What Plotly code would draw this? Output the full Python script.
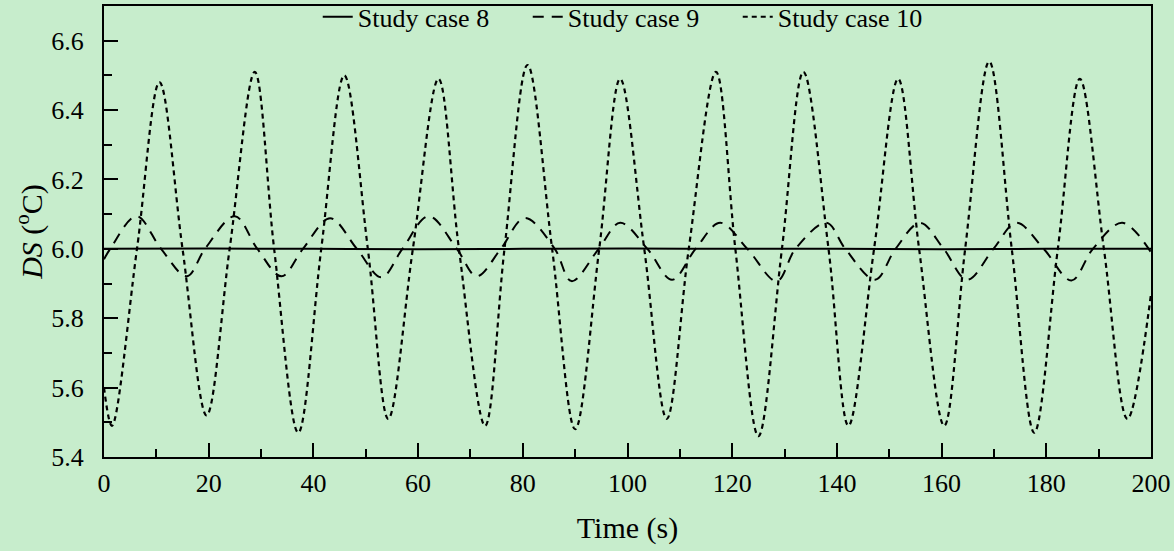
import plotly.graph_objects as go

# Study case 8 (practically constant)
t8 = [0, 20, 40, 60, 80, 100, 120, 140, 160, 180, 200]
v8 = [6.000, 6.001, 6.000, 5.999, 6.000, 6.001, 6.000, 6.000, 5.999, 6.000, 6.000]

# Study case 9 (extremes and 6.0 crossings)
t9 = [0, 1.2, 6.2, 10.9, 15.8, 19.3, 25.0, 29.3, 33.9, 38.0,
      43.2, 48.3, 53.0, 57.0, 62.0, 67.4, 71.2, 75.8, 80.4, 86.1,
      89.3, 94.5, 98.6, 103.8, 108.5, 113.0, 117.7, 122.9, 128.5, 132.1,
      138.0, 141.6, 147.3, 151.2, 155.9, 160.4, 164.9, 169.9, 174.3, 179.5,
      184.8, 188.9, 194.5, 200]
v9 = [5.97, 6.0, 6.094, 6.0, 5.921, 6.0, 6.094, 6.0, 5.921, 6.0,
      6.088, 6.0, 5.918, 6.0, 6.094, 6.0, 5.921, 6.0, 6.089, 6.0,
      5.907, 6.0, 6.075, 6.0, 5.911, 6.0, 6.075, 6.0, 5.907, 6.0,
      6.075, 6.0, 5.911, 6.0, 6.075, 6.0, 5.911, 6.0, 6.075, 6.0,
      5.909, 6.0, 6.075, 5.99]

# Study case 10
t10 = [0, 1.5, 6.3, 10.6, 15.0, 19.6, 24.0, 28.8, 32.5, 37.1,
       41.5, 45.9, 50.4, 54.3, 59.0, 63.9, 67.8, 72.8, 76.5, 80.9,
       85.6, 90.0, 94.6, 98.6, 103.2, 107.5, 111.7, 116.9, 120.6, 125.0,
       129.5, 133.6, 138.4, 142.2, 147.1, 151.7, 155.7, 160.5, 164.5, 169.1,
       173.4, 177.7, 182.2, 186.4, 191.0, 195.5, 200]
v10 = [5.60, 5.49, 6.0, 6.48, 6.0, 5.52, 6.0, 6.51, 6.0, 5.47,
       6.0, 6.50, 6.0, 5.51, 6.0, 6.49, 6.0, 5.49, 6.0, 6.53,
       6.0, 5.48, 6.0, 6.49, 6.0, 5.51, 6.0, 6.51, 6.0, 5.46,
       6.0, 6.51, 6.0, 5.49, 6.0, 6.49, 6.0, 5.49, 6.0, 6.54,
       6.0, 5.47, 6.0, 6.49, 6.0, 5.51, 5.87]

names = ["Study case 8", "Study case 9", "Study case 10"]
x_ticks = [0, 20, 40, 60, 80, 100, 120, 140, 160, 180, 200]
y_ticks = [5.4, 5.6, 5.8, 6.0, 6.2, 6.4, 6.6]

BG = "#C7EDCC"
FONT = "Times New Roman, Liberation Serif, serif"

fig = go.Figure()
fig.add_trace(go.Scatter(x=t8, y=v8, name=names[0], mode="lines",
                         line=dict(color="black", width=2, shape="spline")))
fig.add_trace(go.Scatter(x=t9, y=v9, name=names[1], mode="lines",
                         line=dict(color="black", width=2, dash="11px,8px",
                                   shape="spline", smoothing=1)))
fig.add_trace(go.Scatter(x=t10, y=v10, name=names[2], mode="lines",
                         line=dict(color="black", width=2.2, dash="5px,4px",
                                   shape="spline", smoothing=1)))

fig.update_layout(
    width=1174, height=551,
    margin=dict(l=104, r=23, t=6, b=94, autoexpand=False),
    paper_bgcolor=BG, plot_bgcolor=BG,
    font=dict(family=FONT, color="black", size=26),
    showlegend=True,
    legend=dict(orientation="h", x=0.505, xanchor="center", y=1.028, yanchor="top",
                bgcolor="rgba(0,0,0,0)", font=dict(size=26, family=FONT),
                entrywidth=165),
    xaxis=dict(range=[0, 200], tickvals=x_ticks, ticktext=[str(v) for v in x_ticks],
               ticks="inside", ticklen=14, tickwidth=2, tickcolor="black",
               minor=dict(dtick=10, ticks="inside", ticklen=8, tickwidth=2,
                          tickcolor="black"),
               showline=True, linewidth=2, linecolor="black", mirror=True,
               showgrid=False, zeroline=False, ticklabelstandoff=2,
               tickfont=dict(size=26, family=FONT),
               title=dict(text="Time (s)", font=dict(size=30, family=FONT),
                          standoff=20)),
    yaxis=dict(range=[5.4, 6.7], tickvals=y_ticks,
               ticktext=["%.1f" % v for v in y_ticks],
               ticks="inside", ticklen=14, tickwidth=2, tickcolor="black",
               minor=dict(dtick=0.1, tick0=5.4, ticks="inside", ticklen=8,
                          tickwidth=2, tickcolor="black"),
               showline=True, linewidth=2, linecolor="black", mirror=True,
               showgrid=False, zeroline=False, ticklabelstandoff=13,
               tickfont=dict(size=26, family=FONT),
               title=dict(text="<i>DS</i> (<sup>o</sup>C)",
                          font=dict(size=30, family=FONT), standoff=0)),
    xaxis2=dict(overlaying="x", side="top", range=[0, 10], dtick=2, tick0=0,
                ticks="inside", ticklen=14, tickwidth=2, tickcolor="black",
                minor=dict(dtick=1, ticks="inside", ticklen=8, tickwidth=2,
                           tickcolor="black"),
                showticklabels=False, showline=False, showgrid=False,
                zeroline=False),
    yaxis2=dict(overlaying="y", side="right", range=[0, 10], dtick=2, tick0=0,
                ticks="inside", ticklen=14, tickwidth=2, tickcolor="black",
                minor=dict(dtick=1, ticks="inside", ticklen=8, tickwidth=2,
                           tickcolor="black"),
                showticklabels=False, showline=False, showgrid=False,
                zeroline=False),
)

fig.write_html("out.html")
